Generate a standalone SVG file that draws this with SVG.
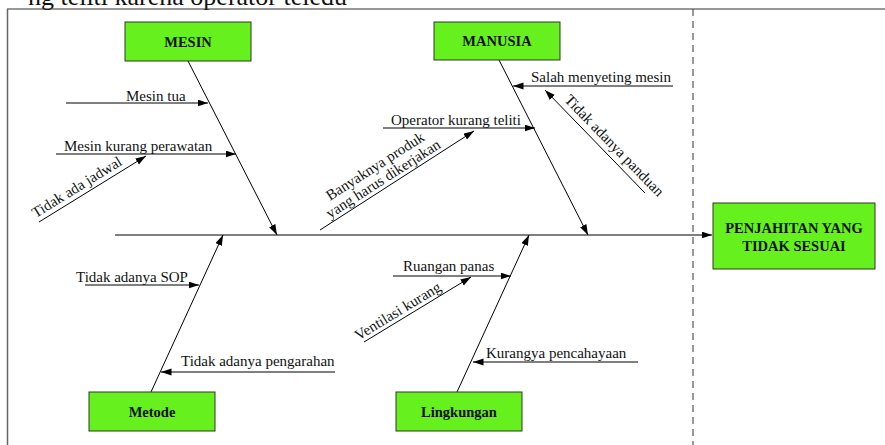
<svg xmlns="http://www.w3.org/2000/svg" width="885" height="445" viewBox="0 0 885 445">
<defs>
<marker id="ah" markerUnits="userSpaceOnUse" markerWidth="11" markerHeight="8" refX="10.5" refY="3.5" orient="auto">
<path d="M0,0 L10.5,3.5 L0,7 z" fill="#000"/>
</marker>
<style>
text{font-family:"Liberation Serif","Times New Roman",serif;fill:#111}
.lbl{font-size:15px}
.box{fill:#66F01E;stroke:#2e3a22;stroke-width:1}
.bt{font-size:14.5px;font-weight:bold;text-anchor:middle}
.bone{stroke:#000;stroke-width:1;fill:none;marker-end:url(#ah)}
.frame{stroke:#333;stroke-width:1.2;fill:none}
</style>
</defs>
<rect width="885" height="445" fill="#fff"/>
<text x="347" y="5" font-size="26" text-anchor="end">ng teliti karena operator teledu</text>
<g id="frame">
<line class="frame" x1="7" y1="9" x2="885" y2="9"/>
<line x1="7.5" y1="9" x2="7.5" y2="445" stroke="#666" stroke-width="1.5"/>
<line x1="693" y1="9" x2="693" y2="445" stroke="#333" stroke-width="1" stroke-dasharray="7,5"/>
</g>
<g id="connectors">
<line x1="115" y1="235" x2="712" y2="235" stroke="#555" stroke-width="1.5" marker-end="url(#ah)"/>
<line class="bone" x1="188" y1="61" x2="277" y2="235"/>
<line class="bone" x1="499" y1="60" x2="588" y2="235"/>
<line class="bone" x1="151" y1="392" x2="223" y2="235"/>
<line class="bone" x1="457" y1="392" x2="529" y2="235"/>
<line class="bone" x1="66" y1="103" x2="208" y2="103"/>
<line class="bone" x1="56" y1="154" x2="236" y2="154"/>
<line class="bone" x1="39" y1="222" x2="146" y2="156"/>
<line class="bone" x1="673" y1="86" x2="513" y2="86"/>
<line class="bone" x1="383" y1="128" x2="535" y2="128"/>
<line class="bone" x1="320" y1="230" x2="474" y2="131"/>
<line class="bone" x1="645" y1="193" x2="545" y2="90"/>
<line class="bone" x1="85" y1="285" x2="199" y2="285"/>
<line class="bone" x1="335" y1="372" x2="161" y2="372"/>
<line class="bone" x1="393" y1="276" x2="511" y2="276"/>
<line class="bone" x1="364" y1="342" x2="471" y2="277"/>
<line class="bone" x1="638" y1="362" x2="473" y2="362"/>
</g>
<g id="labels">
<text class="lbl" x="126" y="100.5">Mesin tua</text>
<text class="lbl" x="64" y="150.5">Mesin kurang perawatan</text>
<text class="lbl" transform="translate(82,195.5) rotate(-31.7)" x="0" y="-5" text-anchor="middle">Tidak ada jadwal</text>
<text class="lbl" x="531" y="82">Salah menyeting mesin</text>
<text class="lbl" x="391" y="124.5">Operator kurang teliti</text>
<g transform="translate(388,186.3) rotate(-32.7)">
<text class="lbl" x="0" y="-19" text-anchor="middle">Banyaknya produk</text>
<text class="lbl" x="0" y="-4" text-anchor="middle">yang harus dikerjakan</text>
</g>
<text class="lbl" transform="translate(606.5,153.2) rotate(45.8)" x="0" y="-6" text-anchor="middle">Tidak adanya panduan</text>
<text class="lbl" x="76" y="282">Tidak adanya SOP</text>
<text class="lbl" x="181" y="365.5">Tidak adanya pengarahan</text>
<text class="lbl" x="403" y="270.5">Ruangan panas</text>
<text class="lbl" transform="translate(402.4,318.7) rotate(-31.3)" x="0" y="-4" text-anchor="middle">Ventilasi kurang</text>
<text class="lbl" x="486" y="357.5">Kurangya pencahayaan</text>
</g>
<g id="mesin">
<rect class="box" x="125" y="22" width="126" height="39"/>
<text class="bt" x="188" y="46.5">MESIN</text>
</g>
<g id="manusia">
<rect class="box" x="434" y="22" width="126" height="38"/>
<text class="bt" x="497" y="46">MANUSIA</text>
</g>
<g id="metode">
<rect class="box" x="89" y="392" width="126" height="39"/>
<text class="bt" x="152" y="416.5">Metode</text>
</g>
<g id="lingkungan">
<rect class="box" x="396" y="392" width="126" height="39"/>
<text class="bt" x="459" y="416.5">Lingkungan</text>
</g>
<g id="penjahitan">
<rect class="box" x="713" y="203" width="162" height="66"/>
<text class="bt" x="794" y="233">PENJAHITAN YANG</text>
<text class="bt" x="794" y="250.5">TIDAK SESUAI</text>
</g>
</svg>
